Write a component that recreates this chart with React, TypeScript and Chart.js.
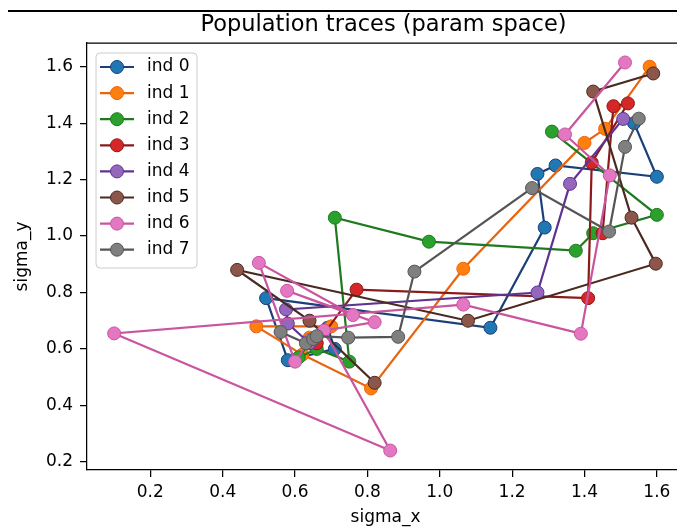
import React, { useEffect, useRef } from "react";
import { Chart, registerables } from "chart.js";

Chart.register(...registerables);

const seriesNames = ["ind 0", "ind 1", "ind 2", "ind 3", "ind 4", "ind 5", "ind 6", "ind 7"];

const ind0X = [0.64, 0.69, 0.71, 0.58, 0.52, 1.14, 1.29, 1.27, 1.32, 1.6, 1.537];
const ind0Y = [0.63, 0.675, 0.6, 0.56, 0.78, 0.675, 1.03, 1.22, 1.25, 1.21, 1.4];

const ind1X = [0.64, 0.7, 0.493, 0.62, 0.81, 1.065, 1.4, 1.457, 1.58];
const ind1Y = [0.64, 0.68, 0.68, 0.58, 0.46, 0.884, 1.33, 1.38, 1.6];

const ind2X = [0.64, 0.61, 0.66, 0.75, 0.71, 0.97, 1.376, 1.424, 1.6, 1.31];
const ind2Y = [0.62, 0.57, 0.6, 0.555, 1.065, 0.98, 0.948, 1.01, 1.075, 1.37];

const ind3X = [0.64, 0.66, 0.77, 1.41, 1.42, 1.52, 1.48, 1.45];
const ind3Y = [0.63, 0.62, 0.81, 0.78, 1.26, 1.47, 1.46, 1.01];

const ind4X = [0.64, 0.58, 0.575, 1.27, 1.36, 1.507];
const ind4Y = [0.62, 0.69, 0.74, 0.8, 1.185, 1.415];

const ind5X = [0.82, 0.64, 0.44, 1.078, 1.597, 1.53, 1.424, 1.59];
const ind5Y = [0.48, 0.7, 0.88, 0.7, 0.902, 1.065, 1.512, 1.576];

const ind6X = [0.64, 0.6, 0.5, 0.76, 0.578, 0.82, 0.68, 0.863, 0.1, 1.065, 1.39, 1.47, 1.346, 1.512];
const ind6Y = [0.63, 0.555, 0.905, 0.72, 0.806, 0.695, 0.665, 0.24, 0.655, 0.757, 0.654, 1.215, 1.36, 1.615];

const ind7X = [0.56, 0.63, 0.65, 0.66, 0.747, 0.885, 0.93, 1.255, 1.468, 1.512, 1.55];
const ind7Y = [0.66, 0.62, 0.635, 0.645, 0.64, 0.643, 0.874, 1.17, 1.016, 1.316, 1.416];

const xTicks = [0.2, 0.4, 0.6, 0.8, 1.0, 1.2, 1.4, 1.6];
const yTicks = [0.2, 0.4, 0.6, 0.8, 1.0, 1.2, 1.4, 1.6];

const markerColors = ["#1f77b4", "#ff7f0e", "#2ca02c", "#d62728", "#9467bd", "#8c564b", "#e377c2", "#7f7f7f"];
const lineColors = ["#1b4079", "#e8640f", "#1f7a1f", "#8b1a1a", "#5e3490", "#4a2a20", "#c9559f", "#555555"];

const FONT = "'DejaVu Sans', sans-serif";

const framePlugin = {
  id: "frameTop",
  afterDraw(chart: any) {
    const { ctx, chartArea } = chart;
    ctx.save();
    ctx.strokeStyle = "#000";
    ctx.lineWidth = 1.25;
    ctx.beginPath();
    ctx.moveTo(chartArea.left, chartArea.top);
    ctx.lineTo(chartArea.right, chartArea.top);
    ctx.lineTo(chartArea.right, chartArea.bottom);
    ctx.stroke();
    ctx.restore();
  },
};

const titlePlugin = {
  id: "mplTitle",
  afterDraw(chart: any) {
    const { ctx, chartArea } = chart;
    ctx.save();
    ctx.fillStyle = "#000";
    ctx.font = `22.5px ${FONT}`;
    ctx.textAlign = "center";
    ctx.textBaseline = "middle";
    ctx.fillText("Population traces (param space)", (chartArea.left + chartArea.right) / 2 - 2, 25);
    ctx.restore();
  },
};

const legendPlugin = {
  id: "mplLegend",
  afterDraw(chart: any) {
    const { ctx } = chart;
    const ds = chart.data.datasets;
    const x0 = 96, y0 = 53, w = 101, h = 215, r = 4;
    ctx.save();
    ctx.beginPath();
    ctx.moveTo(x0 + r, y0);
    ctx.lineTo(x0 + w - r, y0);
    ctx.quadraticCurveTo(x0 + w, y0, x0 + w, y0 + r);
    ctx.lineTo(x0 + w, y0 + h - r);
    ctx.quadraticCurveTo(x0 + w, y0 + h, x0 + w - r, y0 + h);
    ctx.lineTo(x0 + r, y0 + h);
    ctx.quadraticCurveTo(x0, y0 + h, x0, y0 + h - r);
    ctx.lineTo(x0, y0 + r);
    ctx.quadraticCurveTo(x0, y0, x0 + r, y0);
    ctx.closePath();
    ctx.fillStyle = "rgba(255,255,255,0.8)";
    ctx.fill();
    ctx.strokeStyle = "#cccccc";
    ctx.lineWidth = 1;
    ctx.stroke();
    ds.forEach((d: any, i: number) => {
      const cy = 67 + i * 26.1;
      ctx.strokeStyle = d.borderColor;
      ctx.lineWidth = 2.2;
      ctx.beginPath();
      ctx.moveTo(100, cy);
      ctx.lineTo(134, cy);
      ctx.stroke();
      ctx.beginPath();
      ctx.arc(117, cy, 6.5, 0, Math.PI * 2);
      ctx.fillStyle = d.pointBackgroundColor;
      ctx.fill();
      ctx.lineWidth = 1;
      ctx.strokeStyle = d.pointBorderColor;
      ctx.stroke();
      ctx.fillStyle = "#000";
      ctx.font = `17px ${FONT}`;
      ctx.textAlign = "left";
      ctx.textBaseline = "middle";
      ctx.fillText(d.label, 147, cy);
    });
    ctx.restore();
  },
};

export default function App() {
  const ref = useRef<HTMLCanvasElement>(null);
  useEffect(() => {
    const xs = [ind0X, ind1X, ind2X, ind3X, ind4X, ind5X, ind6X, ind7X];
    const ys = [ind0Y, ind1Y, ind2Y, ind3Y, ind4Y, ind5Y, ind6Y, ind7Y];
    const datasets = xs.map((xArr, i) => ({
      label: seriesNames[i],
      data: xArr.map((x, j) => ({ x, y: ys[i][j] })),
      showLine: true,
      borderColor: lineColors[i],
      borderWidth: 2.2,
      backgroundColor: markerColors[i],
      pointBackgroundColor: markerColors[i],
      pointBorderColor: lineColors[i],
      pointBorderWidth: 1,
      pointRadius: 6.5,
      pointHoverRadius: 6.5,
      tension: 0,
      order: 8 - i,
    }));
    const axisCommon = {
      type: "linear" as const,
      grid: { display: true, drawOnChartArea: false, drawTicks: true, tickLength: 7, color: "#000", lineWidth: 1.25 },
      border: { display: true, color: "#000", width: 1.25 },
    };
    const chart = new Chart(ref.current as HTMLCanvasElement, {
      type: "scatter",
      data: { datasets },
      options: {
        animation: false,
        responsive: false,
        devicePixelRatio: 1,
        layout: { padding: { left: 0, right: 16, top: 43, bottom: 0 } },
        plugins: { legend: { display: false }, tooltip: { enabled: false }, title: { display: false } },
        scales: {
          x: {
            ...axisCommon,
            min: 0.025,
            max: 1.675,
            afterBuildTicks: (s: any) => { s.ticks = xTicks.map((v) => ({ value: v })); },
            afterFit: (s: any) => { s.height = 59; },
            ticks: { color: "#000", font: { size: 17, family: FONT }, padding: 5, maxRotation: 0, callback: (v: any) => Number(v).toFixed(1) },
            title: { display: true, text: "sigma_x", color: "#000", font: { size: 17, family: FONT }, padding: { top: 0, bottom: 1 } },
          },
          y: {
            ...axisCommon,
            min: 0.171,
            max: 1.684,
            afterBuildTicks: (s: any) => { s.ticks = yTicks.map((v) => ({ value: v })); },
            afterFit: (s: any) => { s.width = 87; },
            ticks: { color: "#000", font: { size: 17, family: FONT }, padding: 7, callback: (v: any) => Number(v).toFixed(1) },
            title: { display: true, text: "sigma_y", color: "#000", font: { size: 17, family: FONT }, padding: { top: 12, bottom: 0 } },
          },
        },
      },
      plugins: [framePlugin, titlePlugin, legendPlugin],
    });
    return () => chart.destroy();
  }, []);
  return (
    <div style={{ position: "fixed", left: 0, top: 0, width: 677, height: 529, overflow: "hidden", background: "#fff" }}>
      <div style={{ position: "absolute", left: 8, top: 10, width: 669, height: 2, background: "#000" }} />
      <canvas ref={ref} width={700} height={529} style={{ position: "absolute", left: 0, top: 0, width: 700, height: 529 }} />
    </div>
  );
}
